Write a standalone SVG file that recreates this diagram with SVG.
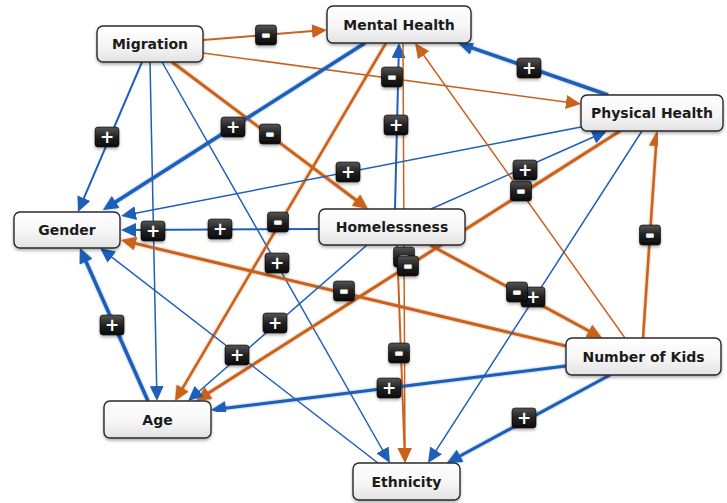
<svg xmlns="http://www.w3.org/2000/svg" xmlns:xlink="http://www.w3.org/1999/xlink" width="727" height="503" viewBox="0 0 727 503">
  <defs>
    <style>
      .node rect { fill: url(#nodeFill); stroke: #2a2a2a; stroke-width: 1.4; filter: url(#shadow); }
      .node text { font-family: "DejaVu Sans", Verdana, sans-serif; font-weight: bold; font-size: 14px; fill: #1b1b1b; text-anchor: middle; }
      .cx line { fill: none; stroke-linecap: butt; }
      .b { stroke: #1f5fb8; marker-end: url(#ab); }
      .o { stroke: #c9621f; marker-end: url(#ao); }
      .w1 { stroke-width: 1.5; }
      .w2 { stroke-width: 2; }
      .w25 { stroke-width: 2.5; filter: url(#glow); }
      .w3 { stroke-width: 3; filter: url(#glow); }
      .w35 { stroke-width: 3.5; filter: url(#glow); }
      .badge rect { fill: url(#badgeFill); stroke: #000; stroke-width: 0.6; filter: url(#shadow); }
      .badge text { font-family: "DejaVu Sans", Verdana, sans-serif; font-weight: bold; fill: #fff; text-anchor: middle; }
      .badge .m { stroke: #fff; stroke-width: 1.3; stroke-linejoin: round; }
    </style>
    <linearGradient id="nodeFill" x1="0" y1="0" x2="0" y2="1">
      <stop offset="0" stop-color="#ffffff"/>
      <stop offset="0.55" stop-color="#f6f6f6"/>
      <stop offset="1" stop-color="#e2e2e2"/>
    </linearGradient>
    <linearGradient id="badgeFill" x1="0" y1="0" x2="0" y2="1">
      <stop offset="0" stop-color="#555"/>
      <stop offset="0.5" stop-color="#222"/>
      <stop offset="1" stop-color="#0a0a0a"/>
    </linearGradient>
    <filter id="shadow" x="-10%" y="-20%" width="120%" height="150%">
      <feDropShadow dx="0" dy="2" stdDeviation="1.6" flood-color="#000" flood-opacity="0.3"/>
    </filter>
    <filter id="glow" x="-5%" y="-5%" width="110%" height="110%" filterUnits="objectBoundingBox">
      <feGaussianBlur in="SourceGraphic" stdDeviation="1.3" result="soft"/>
      <feComponentTransfer in="soft" result="halo">
        <feFuncA type="linear" slope="0.55"/>
      </feComponentTransfer>
      <feMerge>
        <feMergeNode in="halo"/>
        <feMergeNode in="SourceGraphic"/>
      </feMerge>
    </filter>
    <marker id="ab" markerUnits="userSpaceOnUse" markerWidth="15" markerHeight="14" refX="7" refY="7" orient="auto">
      <path d="M0,0 L15,7 L0,14 z" fill="#1f5fb8"/>
    </marker>
    <marker id="ao" markerUnits="userSpaceOnUse" markerWidth="15" markerHeight="14" refX="7" refY="7" orient="auto">
      <path d="M0,0 L15,7 L0,14 z" fill="#c9621f"/>
    </marker>
    <g id="plus" class="badge">
      <rect x="-12" y="-10" width="24" height="20" rx="3"/>
      <text x="0" y="6" font-size="17">+</text>
    </g>
    <g id="minus" class="badge">
      <rect x="-10.5" y="-10" width="21" height="20" rx="3"/>
      <text class="m" x="0" y="6.2" font-size="20">-</text>
    </g>
  </defs>

  <rect width="727" height="503" fill="#ffffff"/>

  <!-- causal links -->
  <g id="connectors" class="cx">
    <line id="e-mig-mh" class="o w2" x1="203" y1="40" x2="319" y2="30.6"/>
    <line id="e-mig-ph" class="o w1" x1="203" y1="53" x2="573" y2="102.9"/>
    <line id="e-mig-gen" class="b w2" x1="142" y1="62" x2="81.1" y2="204.6"/>
    <line id="e-mig-age" class="b w1" x1="150" y1="62" x2="156.8" y2="393"/>
    <line id="e-mig-eth" class="b w1" x1="162" y1="62" x2="386" y2="456"/>
    <line id="e-mig-hom" class="o w3" x1="172" y1="62" x2="361.6" y2="204.2"/>
    <line id="e-mh-gen" class="b w35" x1="365" y1="43" x2="109.7" y2="205.7"/>
    <line id="e-mh-age" class="o w25" x1="386" y1="43" x2="179.1" y2="394.1"/>
    <line id="e-hom-mh" class="b w2" x1="395" y1="209" x2="398.8" y2="51"/>
    <line id="e-mh-eth" class="o w1" x1="403" y1="43" x2="405" y2="455"/>
    <line id="e-ph-mh" class="b w35" x1="608" y1="95" x2="465.6" y2="45.6"/>
    <line id="e-ph-gen" class="b w1" x1="581" y1="127" x2="128.9" y2="214.5"/>
    <line id="e-hom-ph" class="b w1" x1="431" y1="209" x2="599.7" y2="134.2"/>
    <line id="e-kids-mh" class="o w1" x1="625" y1="338" x2="419.6" y2="49.5"/>
    <line id="e-hom-gen" class="b w2" x1="319" y1="229" x2="129" y2="230"/>
    <line id="e-ph-age" class="o w3" x1="620" y1="131" x2="202.7" y2="396.7"/>
    <line id="e-kids-gen" class="o w3" x1="566" y1="346" x2="128.8" y2="241.9"/>
    <line id="e-hom-kids" class="o w3" x1="430" y1="245" x2="595" y2="334.2"/>
    <line id="e-ph-eth" class="b w1" x1="642" y1="131" x2="432.3" y2="456.3"/>
    <line id="e-kids-ph" class="o w25" x1="643" y1="338" x2="656.5" y2="139"/>
    <line id="e-age-gen" class="b w35" x1="148" y1="401" x2="83.2" y2="255.3"/>
    <line id="e-hom-age" class="b w1" x1="367" y1="245" x2="194" y2="395.7"/>
    <line id="e-eth-gen" class="b w1" x1="378" y1="463" x2="106.3" y2="252.9"/>
    <line id="e-hom-eth" class="o w2" x1="397" y1="245" x2="404.7" y2="455"/>
    <line id="e-kids-age" class="b w3" x1="566" y1="366" x2="218.9" y2="409"/>
    <line id="e-kids-eth" class="b w3" x1="610" y1="375" x2="454" y2="459.2"/>
  </g>

  <!-- variables -->
  <g id="migration" class="node">
    <rect x="97" y="26" width="106" height="36" rx="6"/>
    <text x="150" y="49">Migration</text>
  </g>
  <g id="mental-health" class="node">
    <rect x="327" y="6" width="144" height="37" rx="6"/>
    <text x="399" y="29.5">Mental Health</text>
  </g>
  <g id="physical-health" class="node">
    <rect x="581" y="95" width="142" height="36" rx="6"/>
    <text x="652" y="118">Physical Health</text>
  </g>
  <g id="gender" class="node">
    <rect x="14" y="212" width="106" height="36" rx="6"/>
    <text x="67" y="235">Gender</text>
  </g>
  <g id="homelessness" class="node">
    <rect x="319" y="209" width="146" height="36" rx="6"/>
    <text x="392" y="232">Homelessness</text>
  </g>
  <g id="number-of-kids" class="node">
    <rect x="566" y="338" width="155" height="37" rx="6"/>
    <text x="643.5" y="361.5">Number of Kids</text>
  </g>
  <g id="age" class="node">
    <rect x="104" y="401" width="107" height="37" rx="6"/>
    <text x="157.5" y="424.5">Age</text>
  </g>
  <g id="ethnicity" class="node">
    <rect x="353" y="463" width="107" height="37" rx="6"/>
    <text x="406.5" y="486.5">Ethnicity</text>
  </g>

  <!-- polarity badges -->
  <g id="polarities">
    <use xlink:href="#minus" x="266" y="35"/>
    <use xlink:href="#minus" x="392" y="77"/>
    <use xlink:href="#plus" x="107" y="137"/>
    <use xlink:href="#plus" x="153" y="231"/>
    <use xlink:href="#plus" x="277" y="263"/>
    <use xlink:href="#minus" x="270" y="134"/>
    <use xlink:href="#plus" x="233" y="127"/>
    <use xlink:href="#minus" x="278" y="222"/>
    <use xlink:href="#plus" x="396" y="125"/>
    <use xlink:href="#minus" x="404" y="257"/>
    <use xlink:href="#plus" x="529" y="68"/>
    <use xlink:href="#plus" x="348" y="172"/>
    <use xlink:href="#minus" x="521" y="191"/>
    <use xlink:href="#plus" x="525" y="170"/>
    <use xlink:href="#plus" x="220" y="229"/>
    <use xlink:href="#minus" x="408" y="266"/>
    <use xlink:href="#minus" x="344" y="291"/>
    <use xlink:href="#plus" x="533" y="297"/>
    <use xlink:href="#minus" x="517" y="292"/>
    <use xlink:href="#minus" x="650" y="235"/>
    <use xlink:href="#plus" x="112" y="325"/>
    <use xlink:href="#plus" x="275" y="323"/>
    <use xlink:href="#plus" x="237" y="355"/>
    <use xlink:href="#minus" x="399" y="353"/>
    <use xlink:href="#plus" x="389" y="388"/>
    <use xlink:href="#plus" x="524" y="418"/>
  </g>
</svg>
